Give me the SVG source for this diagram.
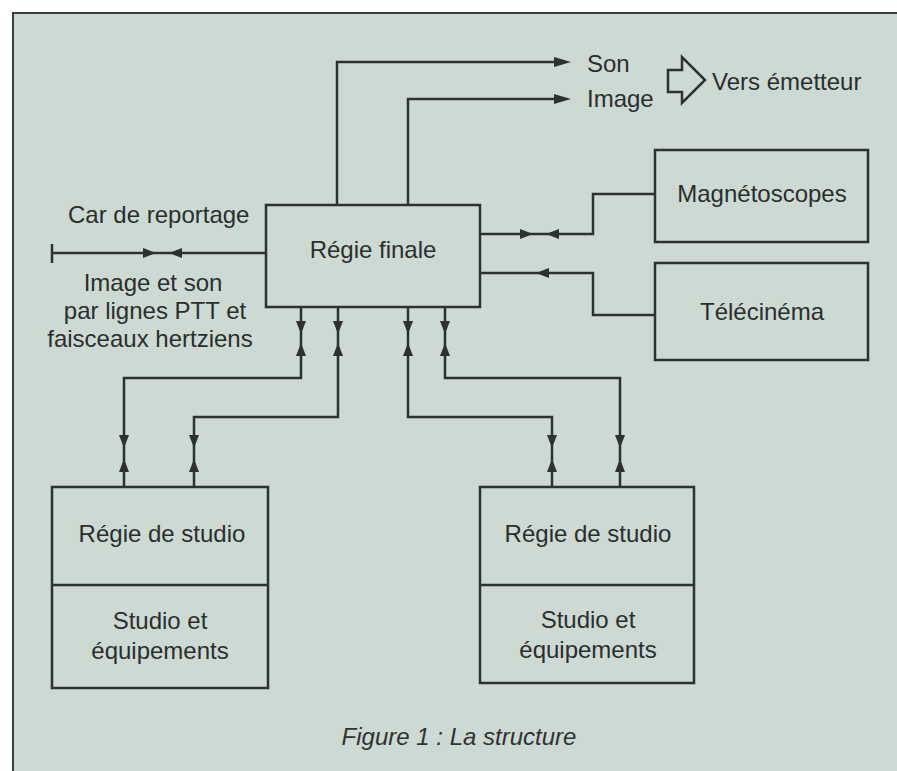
<svg xmlns="http://www.w3.org/2000/svg" xmlns:xlink="http://www.w3.org/1999/xlink" width="897" height="771" viewBox="0 0 897 771">
<style>
.bg{fill:#cdd9d3}
.box{fill:none;stroke:#2c3230;stroke-width:2.5}
.ln{fill:none;stroke:#2c3230;stroke-width:2.5;stroke-linejoin:miter}
.t{font-family:"Liberation Sans",Arial,sans-serif;font-size:24px;fill:#2a2f2d}
.c{text-anchor:middle}
.ah{fill:#2c3230}
.cap{font-family:"Liberation Sans",Arial,sans-serif;font-size:24px;font-style:italic;fill:#2f3432;text-anchor:middle}
</style>
<defs>
<path id="ah" d="M0,0 L-13,-5 L-13,5 Z"/>
<path id="ahl" d="M0,0 L-17,-5 L-17,5 Z"/>
</defs>
<rect x="0" y="0" width="897" height="771" fill="#ffffff"/>
<rect class="bg" x="13" y="13" width="884" height="758"/>
<path d="M13,771 L13,13 L897,13" fill="none" stroke="#3a3f3d" stroke-width="2"/>

<g id="connectors">
  <path class="ln" d="M337,205 L337,62 L556,62"/>
  <use xlink:href="#ahl" class="ah" transform="translate(571,62)"/>
  <path class="ln" d="M408,205 L408,99 L556,99"/>
  <use xlink:href="#ahl" class="ah" transform="translate(571,99)"/>
  <path class="ln" d="M668,70 L682,70 L682,57 L705,80 L682,103 L682,92 L668,92 Z" stroke-width="2.2"/>
  <path class="ln" d="M52,253 L266,253"/>
  <path class="ln" d="M52,244 L52,263"/>
  <use xlink:href="#ah" class="ah" transform="translate(156,253)"/>
  <use xlink:href="#ah" class="ah" transform="translate(169,253) rotate(180)"/>
  <path class="ln" d="M480,234 L593,234 L593,194 L655,194"/>
  <use xlink:href="#ah" class="ah" transform="translate(533,234)"/>
  <use xlink:href="#ah" class="ah" transform="translate(546,234) rotate(180)"/>
  <path class="ln" d="M480,273 L593,273 L593,315 L655,315"/>
  <use xlink:href="#ah" class="ah" transform="translate(536,273) rotate(180)"/>
  <path class="ln" d="M301,307 L301,378 L124,378 L124,487"/>
  <path class="ln" d="M338,307 L338,417 L194,417 L194,487"/>
  <path class="ln" d="M408,307 L408,417 L552,417 L552,487"/>
  <path class="ln" d="M445,307 L445,378 L620,378 L620,487"/>
  <use xlink:href="#ah" class="ah" transform="translate(301,334) rotate(90)"/>
  <use xlink:href="#ah" class="ah" transform="translate(301,343) rotate(-90)"/>
  <use xlink:href="#ah" class="ah" transform="translate(338,334) rotate(90)"/>
  <use xlink:href="#ah" class="ah" transform="translate(338,343) rotate(-90)"/>
  <use xlink:href="#ah" class="ah" transform="translate(408,334) rotate(90)"/>
  <use xlink:href="#ah" class="ah" transform="translate(408,343) rotate(-90)"/>
  <use xlink:href="#ah" class="ah" transform="translate(445,334) rotate(90)"/>
  <use xlink:href="#ah" class="ah" transform="translate(445,343) rotate(-90)"/>
  <use xlink:href="#ah" class="ah" transform="translate(124,448) rotate(90)"/>
  <use xlink:href="#ah" class="ah" transform="translate(124,459) rotate(-90)"/>
  <use xlink:href="#ah" class="ah" transform="translate(194,448) rotate(90)"/>
  <use xlink:href="#ah" class="ah" transform="translate(194,459) rotate(-90)"/>
  <use xlink:href="#ah" class="ah" transform="translate(552,448) rotate(90)"/>
  <use xlink:href="#ah" class="ah" transform="translate(552,459) rotate(-90)"/>
  <use xlink:href="#ah" class="ah" transform="translate(620,448) rotate(90)"/>
  <use xlink:href="#ah" class="ah" transform="translate(620,459) rotate(-90)"/>
</g>

<g id="labels">
  <text class="t" x="587" y="72">Son</text>
  <text class="t" x="587" y="107">Image</text>
  <text class="t" x="712" y="90">Vers émetteur</text>
  <text class="t" x="68" y="223">Car de reportage</text>
  <text class="t c" x="153" y="291">Image et son</text>
  <text class="t c" x="155" y="319">par lignes PTT et</text>
  <text class="t c" x="150" y="347">faisceaux hertziens</text>
</g>

<g id="regie-finale">
  <rect class="box" x="266" y="205" width="214" height="102"/>
  <text class="t c" x="373" y="258">Régie finale</text>
</g>

<g id="magnetoscopes">
  <rect class="box" x="655" y="150" width="213" height="92"/>
  <text class="t c" x="762" y="202">Magnétoscopes</text>
</g>

<g id="telecinema">
  <rect class="box" x="655" y="263" width="213" height="97"/>
  <text class="t c" x="762" y="320">Télécinéma</text>
</g>

<g id="studio-gauche">
  <rect class="box" x="52" y="487" width="216" height="201"/>
  <line class="box" x1="52" y1="585" x2="268" y2="585"/>
  <text class="t c" x="162" y="542">Régie de studio</text>
  <text class="t c" x="160" y="629">Studio et</text>
  <text class="t c" x="160" y="659">équipements</text>
</g>

<g id="studio-droite">
  <rect class="box" x="480" y="487" width="214" height="196"/>
  <line class="box" x1="480" y1="585" x2="694" y2="585"/>
  <text class="t c" x="588" y="542">Régie de studio</text>
  <text class="t c" x="588" y="628">Studio et</text>
  <text class="t c" x="588" y="658">équipements</text>
</g>

<text class="cap" x="459" y="745">Figure 1 : La structure</text>
</svg>
